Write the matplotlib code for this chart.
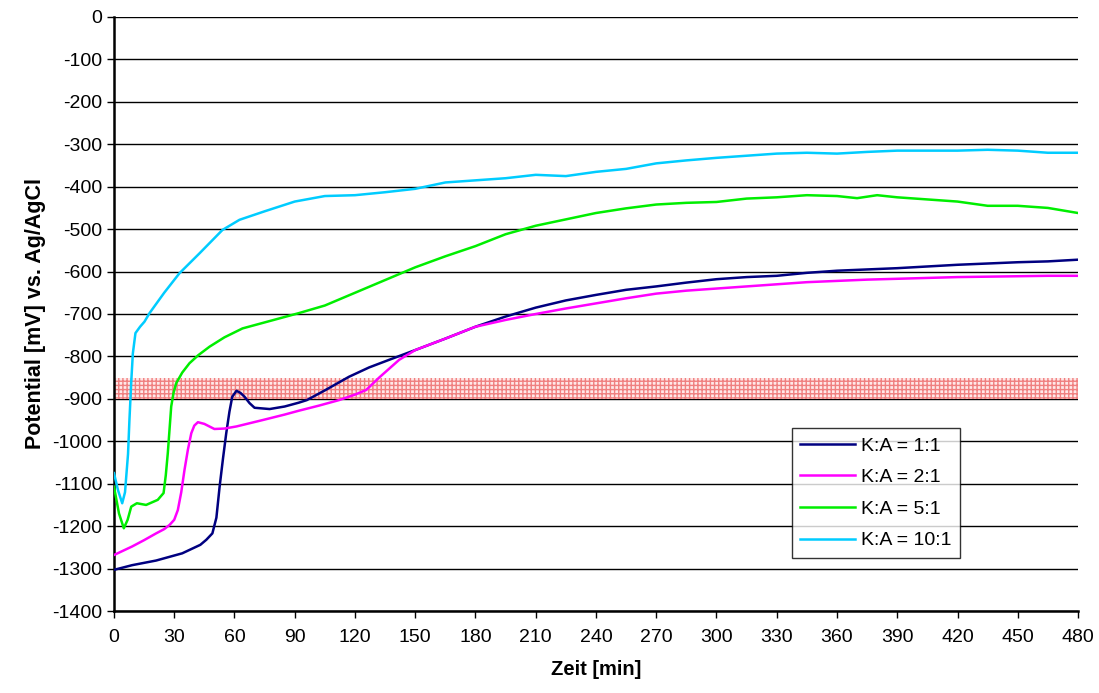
import matplotlib.pyplot as plt

plt.rcParams['font.family'] = ['Liberation Sans', 'DejaVu Sans']
plt.rcParams['axes.unicode_minus'] = False

# time [min] and potential [mV] per series
t_11 = [0, 9, 21, 34, 43, 46, 49, 51, 52.6, 54.3, 55.9, 57.5, 58.9, 61, 63, 65, 67.5, 70, 77.5, 85, 92, 96, 105, 117, 127, 137, 150, 165, 180, 195, 210, 225, 240, 255, 270, 285, 300, 315, 330, 345, 360, 375, 390, 405, 420, 435, 450, 465, 480]
v_11 = [-1303, -1292, -1281, -1264, -1244, -1232, -1217, -1180, -1107, -1040, -981, -930, -895, -881, -886, -895, -910, -921, -924, -918, -909, -903, -880, -848, -826, -808, -785, -758, -730, -706, -685, -668, -655, -643, -635, -626, -618, -613, -610, -603, -598, -595, -592, -588, -584, -581, -578, -576, -572]

t_21 = [0, 9, 15, 21, 25, 27.7, 30, 31.8, 33.5, 35.1, 36.8, 38.5, 40, 41.8, 45, 50, 55, 61, 74, 85, 92, 102, 112, 120, 125.6, 132, 142, 150, 165, 180, 195, 210, 225, 240, 255, 270, 285, 300, 315, 330, 345, 360, 375, 390, 405, 420, 435, 450, 465, 480]
v_21 = [-1268, -1248, -1233, -1217, -1207, -1197, -1185, -1162, -1120, -1068, -1020, -981, -963, -955, -959, -971, -970, -965, -950, -937, -928, -916, -903, -890, -879, -850, -808, -785, -758, -730, -714, -700, -687, -675, -663, -652, -645, -640, -635, -630, -625, -622, -619, -617, -615, -613, -612, -611, -610, -610]

t_51 = [0, 2.5, 4.9, 6.8, 8.6, 11.4, 16, 21.8, 24.7, 25.8, 26.8, 27.7, 28.5, 29.7, 31, 34, 37.6, 42, 47.6, 55, 64, 78, 92, 105, 120, 135, 150, 165, 180, 195, 210, 225, 240, 255, 270, 285, 300, 315, 330, 345, 360, 370, 380, 390, 405, 420, 435, 450, 465, 480]
v_51 = [-1107, -1170, -1205, -1185, -1154, -1146, -1150, -1138, -1122, -1080, -1028, -970, -918, -885, -863, -838, -816, -797, -777, -755, -734, -716, -698, -680, -650, -620, -590, -564, -540, -512, -492, -477, -462, -451, -442, -438, -436, -428, -425, -420, -422, -427, -420, -425, -430, -435, -445, -445, -450, -462]

t_101 = [0, 2, 4.1, 5.5, 7, 7.7, 8.6, 9.4, 10.7, 13, 15.2, 17.7, 25, 32.6, 42.6, 54, 62.5, 75, 90, 105, 120, 135, 150, 165, 180, 195, 210, 225, 240, 255, 270, 285, 300, 315, 330, 345, 360, 375, 390, 405, 420, 435, 450, 465, 480]
v_101 = [-1075, -1115, -1146, -1120, -1030, -950, -860, -793, -745, -730, -718, -698, -650, -604, -557, -502, -478, -458, -435, -422, -420, -413, -405, -390, -385, -380, -372, -375, -365, -358, -345, -338, -332, -327, -322, -320, -322, -318, -315, -315, -315, -313, -315, -320, -320]

labels = ['K:A = 1:1', 'K:A = 2:1', 'K:A = 5:1', 'K:A = 10:1']
colors = ['#000080', '#ff00ff', '#00ee00', '#00ccff']

fig = plt.figure(figsize=(10.99, 6.93), dpi=100)
ax = fig.add_axes([0.1037, 0.1183, 0.8772, 0.8572])

# protection band
ax.axhspan(-900, -850, facecolor='#ffe8e8', edgecolor='#f08080', hatch='++++', linewidth=0, zorder=1)

for t, v, lab, c in zip([t_11, t_21, t_51, t_101], [v_11, v_21, v_51, v_101], labels, colors):
    ax.plot(t, v, color=c, linewidth=1.8, label=lab, zorder=3, solid_joinstyle='round')

ax.set_xlim(0, 480)
ax.set_ylim(-1400, 0)
ax.set_xticks(range(0, 481, 30))
ax.set_yticks(range(-1400, 1, 100))
ax.tick_params(labelsize=14, length=5, width=1)
ax.tick_params(axis='x', pad=8)
ax.grid(axis='y', color='black', linewidth=1, zorder=0)
ax.set_axisbelow(True)
for s in ['top', 'right']:
    ax.spines[s].set_visible(False)
ax.spines['left'].set_linewidth(1.8)
ax.spines['bottom'].set_linewidth(1.8)

ax.set_xlabel('Zeit [min]', fontsize=14.5, fontweight='bold', labelpad=10)
ax.set_ylabel('Potential [mV] vs. Ag/AgCl', fontsize=15.5, fontweight='bold', labelpad=4)

leg = ax.legend(loc='lower left', bbox_to_anchor=(0.703, 0.089), borderaxespad=0, fontsize=14,
                frameon=True, fancybox=False, edgecolor='black', handlelength=2.8, handletextpad=0.3,
                labelspacing=0.72, borderpad=0.45)
leg.get_frame().set_linewidth(1)

fig.savefig('out.png', dpi=100)
